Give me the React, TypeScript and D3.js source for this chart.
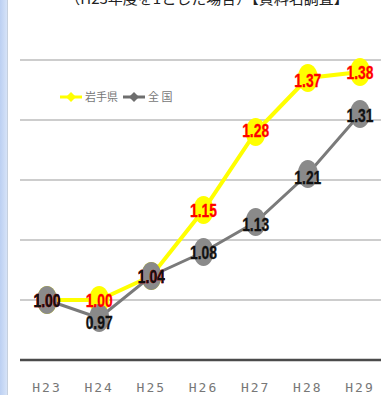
import React from "react";
import * as d3 from "d3";

const years = ["H23", "H24", "H25", "H26", "H27", "H28", "H29"];
const prefValues = [1.0, 1.0, 1.04, 1.15, 1.28, 1.37, 1.38];
const nationValues = [1.0, 0.97, 1.04, 1.08, 1.13, 1.21, 1.31];
const gridTicks = [1.0, 1.1, 1.2, 1.3, 1.4];
const seriesNames = ["岩手県", "全 国"];
const titleText = "（H23年度を1とした場合）【資料名調査】";

const W = 381;
const H = 395;

export default function App() {
  const x = d3.scalePoint<string>().domain(years).range([47, 360]);
  const y = d3.scaleLinear().domain([0.9, 1.4]).range([360, 60]);
  const line = d3
    .line<number>()
    .x((_, i) => x(years[i]) as number)
    .y((d) => y(d));

  const labelFont = "'Liberation Sans', Arial, sans-serif";

  const renderMarkers = (vals: number[], fill: string) =>
    vals.map((v, i) => (
      <ellipse key={i} cx={x(years[i])} cy={y(v)} rx={10} ry={14} fill={fill} />
    ));

  const renderLabels = (vals: number[], color: string, dy: number[]) =>
    vals.map((v, i) => (
      <text
        key={i}
        x={x(years[i])}
        y={y(v) + dy[i] + 6.5}
        textAnchor="middle"
        fontFamily={labelFont}
        fontWeight="bold"
        fontSize={18}
        fill={color}
        textLength={27}
        lengthAdjust="spacingAndGlyphs"
        stroke={color}
        strokeWidth={0.3}
      >
        {v.toFixed(2)}
      </text>
    ));

  return (
    <svg
      width={W}
      height={H}
      style={{ position: "fixed", left: 0, top: 0, background: "#fff" }}
    >
      <defs>
        <linearGradient id="strip" x1="0" x2="1" y1="0" y2="0">
          <stop offset="0" stopColor="#bcd0f2" />
          <stop offset="1" stopColor="#d6e3f8" />
        </linearGradient>
      </defs>
      <rect x={0} y={0} width={W} height={H} fill="#fff" />
      <rect x={0} y={0} width={7} height={H} fill="url(#strip)" />
      <line x1={7.5} x2={7.5} y1={0} y2={H} stroke="#c6d0de" strokeWidth={1} />

      <text
        x={207}
        y={4}
        textAnchor="middle"
        fontFamily="'Noto Sans CJK JP', sans-serif"
        fontSize={15}
        fill="#222"
      >
        {titleText}
      </text>

      {gridTicks.map((t) => (
        <line
          key={t}
          x1={20}
          x2={W}
          y1={y(t)}
          y2={y(t)}
          stroke="#bdbdbd"
          strokeWidth={1.5}
        />
      ))}
      <line x1={20} x2={W} y1={y(0.9)} y2={y(0.9)} stroke="#4a4a4a" strokeWidth={2.5} />

      {/* legend */}
      <g fontFamily="'Noto Sans CJK JP', sans-serif" fontSize={11} fill="#777">
        <line x1={60} x2={82} y1={97} y2={97} stroke="#ffff00" strokeWidth={3} />
        <path d="M71,92 L76,97 L71,102 L66,97 Z" fill="#ffff00" />
        <text x={85} y={101}>{seriesNames[0]}</text>
        <line x1={123} x2={145} y1={97} y2={97} stroke="#6e6e6e" strokeWidth={3} />
        <path d="M134,92 L139,97 L134,102 L129,97 Z" fill="#6e6e6e" />
        <text x={148} y={101}>{seriesNames[1]}</text>
      </g>

      <path d={line(prefValues) || ""} fill="none" stroke="#ffff00" strokeWidth={4} />
      {renderMarkers(prefValues, "#ffff00")}
      <path d={line(nationValues) || ""} fill="none" stroke="#7a7a7a" strokeWidth={3} />
      {renderMarkers(nationValues, "#8a8a8a")}
      {renderLabels(prefValues, "#ff0000", [0, 0, 0, 0, -2, 2, 0])}
      {renderLabels(nationValues, "#111", [0, 4, 0, 0, 2, 3, 1])}

      {years.map((yr) => (
        <text
          key={yr}
          x={x(yr)}
          y={392}
          textAnchor="middle"
          fontFamily="'DejaVu Sans Mono', monospace"
          fontSize={13}
          letterSpacing={2}
          fill="#777"
        >
          {yr}
        </text>
      ))}
    </svg>
  );
}
